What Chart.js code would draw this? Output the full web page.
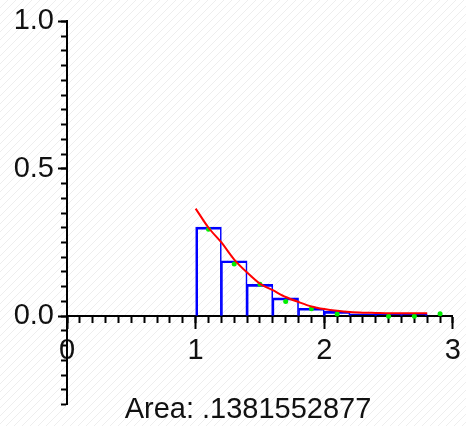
<!DOCTYPE html>
<html>
<head>
<meta charset="utf-8">
<script src="https://cdn.jsdelivr.net/npm/chart.js@4.4.0/dist/chart.umd.min.js"></script>
<style>
body { margin: 0; background: #fff; }
</style>
</head>
<body>
<canvas id="myChart" width="466" height="426"></canvas>
<script>
// histogram bins (centres and heights)
var binCenters = [1.1, 1.3, 1.5, 1.7, 1.9, 2.1, 2.3, 2.5, 2.7];
var binHeights = [0.302, 0.188, 0.108, 0.062, 0.027, 0.016, 0.008, 0.008, 0.008];

// red density curve
var curveX = [1.0, 1.1, 1.2, 1.3, 1.4, 1.5, 1.6, 1.7, 1.8, 1.9, 2.0, 2.1, 2.2, 2.3, 2.4, 2.5, 2.6, 2.7, 2.8];
var curveY = [0.365, 0.300, 0.250, 0.192, 0.148, 0.110, 0.088, 0.065, 0.048, 0.033, 0.024, 0.018, 0.014, 0.012, 0.011, 0.010, 0.010, 0.010, 0.010];

// green sample points
var sampleX = [1.1, 1.3, 1.5, 1.7, 1.9, 2.1, 2.5, 2.7, 2.9];
var sampleY = [0.295, 0.177, 0.108, 0.050, 0.025, 0.007, 0.0, 0.0, 0.008];

var xTickValues = [0, 1, 2, 3];
var xTickLabels = ['0', '1', '2', '3'];
var yTickValues = [0, 0.5, 1.0];
var yTickLabels = ['0.0', '0.5', '1.0'];

var areaText = 'Area: .1381552877';

var bins = binCenters.map(function (x, i) { return { x: x, y: binHeights[i] }; });
var curve = curveX.map(function (x, i) { return { x: x, y: curveY[i] }; });
var samples = sampleX.map(function (x, i) { return { x: x, y: sampleY[i] }; });

var hatch = {
    id: 'hatch',
    beforeDraw: function (chart) {
        var p = document.createElement('canvas');
        p.width = 8; p.height = 8;
        var pc = p.getContext('2d');
        pc.fillStyle = '#ffffff';
        pc.fillRect(0, 0, 8, 8);
        pc.strokeStyle = '#eeeeee';
        pc.lineWidth = 1;
        pc.beginPath();
        pc.moveTo(-1, 9); pc.lineTo(9, -1);
        pc.stroke();
        var c = chart.ctx;
        c.save();
        c.fillStyle = c.createPattern(p, 'repeat');
        c.fillRect(0, 0, chart.width, chart.height);
        c.restore();
    }
};

var areaLabel = {
    id: 'areaLabel',
    afterDraw: function (chart) {
        var c = chart.ctx;
        c.save();
        c.font = '29px "Liberation Sans"';
        c.fillStyle = '#111';
        c.textAlign = 'center';
        c.textBaseline = 'alphabetic';
        c.fillText(areaText, 248, 418);
        c.restore();
    }
};

var tickFont = { family: 'Liberation Sans', size: 29 };

var ctx = document.getElementById('myChart');
var myChart = new Chart(ctx, {
    type: 'scatter',
    data: {
        datasets: [{
            type: 'bar',
            data: bins,
            borderColor: '#0000ff',
            backgroundColor: 'rgba(0,0,0,0)',
            borderWidth: function (c) {
                var last = c.dataIndex === binCenters.length - 1;
                return { top: 2, left: c.dataIndex === 0 ? 2 : 1, right: last ? 2 : 1, bottom: 0 };
            },
            barPercentage: 1,
            categoryPercentage: 1,
            order: 3
        }, {
            type: 'scatter',
            data: samples,
            pointBackgroundColor: '#00ee00',
            pointBorderWidth: 0,
            pointRadius: 2.5,
            order: 2
        }, {
            type: 'line',
            data: curve,
            borderColor: '#ff0000',
            borderWidth: 2,
            pointRadius: 0,
            tension: 0.3,
            fill: false,
            order: 1
        }]
    },
    options: {
        responsive: false,
        animation: false,
        layout: { padding: { left: 7, right: 11, top: 20, bottom: 19 } },
        plugins: {
            legend: { display: false },
            tooltip: { enabled: false }
        },
        scales: {
            x: {
                type: 'linear', min: 0, max: 3, offset: false,
                position: { y: 0 },
                afterBuildTicks: function (axis) {
                    axis.ticks = xTickValues.map(function (v) { return { value: v }; });
                },
                ticks: {
                    autoSkip: false, padding: 5, color: '#111', font: tickFont,
                    maxRotation: 0,
                    callback: function (v) { return xTickLabels[xTickValues.indexOf(v)]; }
                },
                grid: { offset: false, drawOnChartArea: false, tickLength: 12, tickWidth: 2, tickColor: '#000' },
                border: { color: '#000', width: 2 }
            },
            xMinor: {
                type: 'linear', axis: 'x', min: 0, max: 3, offset: false,
                position: { y: 0 },
                ticks: { display: false, stepSize: 0.1, autoSkip: false },
                grid: { offset: false, drawOnChartArea: false, tickLength: 6, tickWidth: 2, tickColor: '#000' },
                border: { color: '#000', width: 2 }
            },
            y: {
                type: 'linear', min: -0.3, max: 1.0,
                position: 'left',
                afterFit: function (s) { s.width = 60; },
                afterBuildTicks: function (axis) {
                    axis.ticks = yTickValues.map(function (v) { return { value: v }; });
                },
                ticks: {
                    autoSkip: false, padding: 4, color: '#111', font: tickFont,
                    callback: function (v) { return yTickLabels[yTickValues.indexOf(v)]; }
                },
                grid: { drawOnChartArea: false, tickLength: 9, tickWidth: 2, tickColor: '#000' },
                border: { color: '#000', width: 2 }
            },
            yMinor: {
                type: 'linear', axis: 'y', min: -0.3, max: 1.0,
                position: { x: 0 },
                ticks: { display: false, stepSize: 0.05, autoSkip: false },
                grid: { drawOnChartArea: false, tickLength: 5, tickWidth: 2, tickColor: '#000' },
                border: { color: '#000', width: 2 }
            }
        }
    },
    plugins: [hatch, areaLabel]
});
</script>
</body>
</html>
